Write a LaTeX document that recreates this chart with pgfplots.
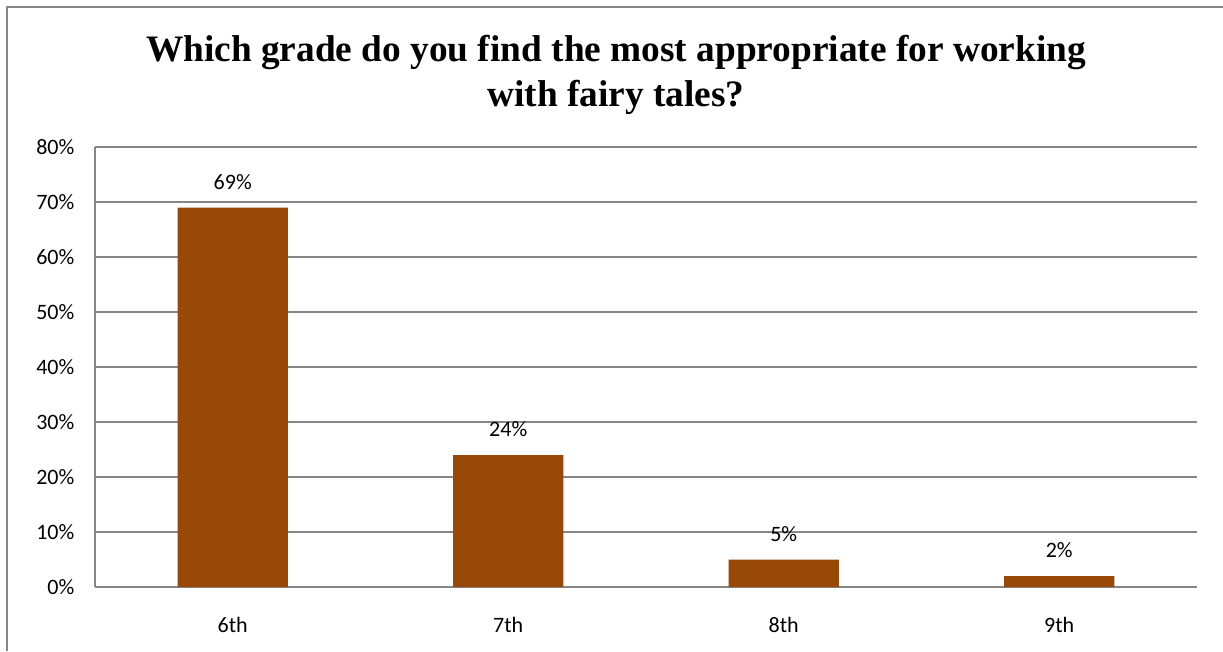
\documentclass[border=0pt]{standalone}
\usepackage{pgfplots}
\pgfplotsset{compat=1.18}
\usepackage{fontspec}
\setmainfont{Carlito}
\newfontfamily\titlefont{Liberation Serif}
\definecolor{barbrown}{RGB}{152,72,7}
\definecolor{gridgray}{RGB}{134,134,134}
\begin{document}
\begin{tikzpicture}
\useasboundingbox (0pt,0pt) rectangle (917.25pt,488.25pt);
\draw[gridgray,line width=1.5pt] (5.25pt,0pt) -- (5.25pt,483pt) -- (917.25pt,483pt);
\node[font=\titlefont\bfseries\fontsize{28}{34}\selectfont,anchor=base,inner sep=0pt] at (462pt,441.75pt) {Which grade do you find the most appropriate for working};
\node[font=\titlefont\bfseries\fontsize{28}{34}\selectfont,anchor=base,inner sep=0pt] at (462pt,408pt) {with fairy tales?};
\begin{axis}[
  at={(71.25pt,48pt)}, anchor=south west,
  scale only axis,
  width=826.5pt, height=330pt,
  xmin=0, xmax=4,
  ymin=0, ymax=80,
  ytick={0,10,...,80},
  yticklabel={\pgfmathprintnumber{\tick}\%},
  xtick={0.5,1.5,2.5,3.5},
  xticklabels={6th,7th,8th,9th},
  major tick length=0pt,
  tick label style={font=\fontsize{16.5}{20}\selectfont},
  /pgf/number format/assume math mode=true,
  ymajorgrids,
  grid style={gridgray,line width=0.8pt},
  axis x line*=bottom, axis y line*=left,
  axis line style={gridgray,line width=0.8pt},
  every outer x axis line/.append style={-},
  every outer y axis line/.append style={-},
  yticklabel style={xshift=-12pt},
  xticklabel style={yshift=-19pt},
  ybar, bar width=82.6pt, bar shift=0pt,
  nodes near coords={\pgfmathprintnumber{\pgfplotspointmeta}\%},
  nodes near coords style={font=\fontsize{16.5}{20}\selectfont, yshift=10pt},
]
\addplot[fill=barbrown, draw=none] coordinates {(0.5,69) (1.5,24) (2.5,5) (3.5,2)};
\end{axis}
\end{tikzpicture}
\end{document}
